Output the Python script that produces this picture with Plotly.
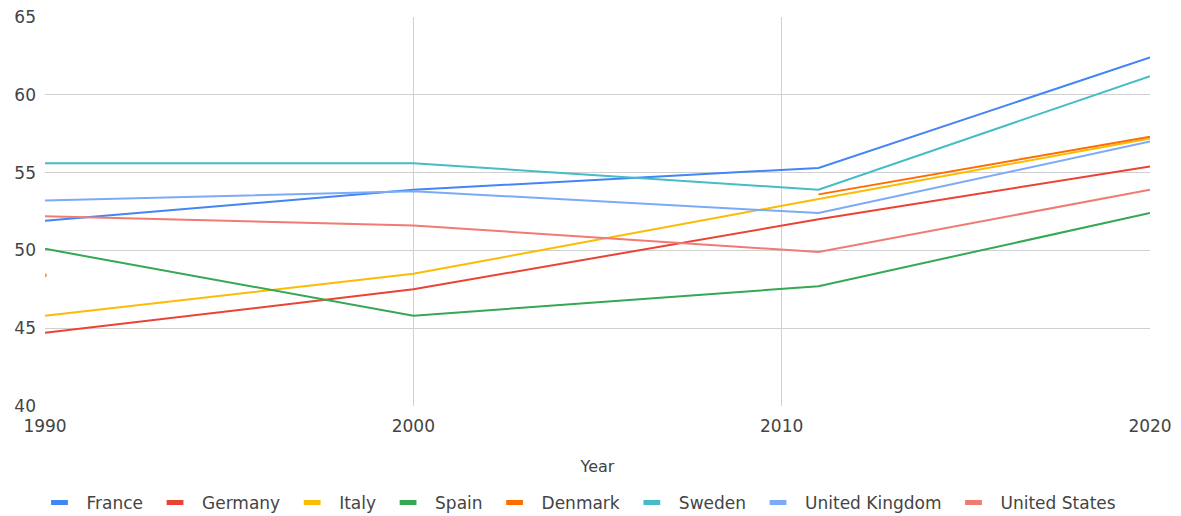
import plotly.graph_objects as go

years = [1990, 2000, 2011, 2020]
countries = ["France", "Germany", "Italy", "Spain", "Denmark", "Sweden", "United Kingdom", "United States"]
colors = ["#4285F4", "#EA4335", "#FBBC04", "#34A853", "#FF6D01", "#46BDC6", "#7BAAF7", "#F07B72"]

france = [51.9, 53.9, 55.3, 62.4]
germany = [44.7, 47.5, 52.0, 55.4]
italy = [45.8, 48.5, 53.3, 57.2]
spain = [50.1, 45.8, 47.7, 52.4]
denmark = [48.4, None, 53.6, 57.3]
sweden = [55.6, 55.6, 53.9, 61.2]
united_kingdom = [53.2, 53.8, 52.4, 57.0]
united_states = [52.2, 51.6, 49.9, 53.9]

series = [france, germany, italy, spain, denmark, sweden, united_kingdom, united_states]

fig = go.Figure()
for name, vals, col in zip(countries, series, colors):
    # isolated points (neighbours missing) are drawn as a small mark
    sizes = []
    for i, v in enumerate(vals):
        prev_ok = i > 0 and vals[i - 1] is not None
        next_ok = i < len(vals) - 1 and vals[i + 1] is not None
        sizes.append(4 if (v is not None and not prev_ok and not next_ok) else 0)
    fig.add_trace(go.Scatter(
        x=years, y=vals, mode="lines+markers", name=name,
        line=dict(color=col, width=2),
        marker=dict(size=sizes, color=col, line=dict(width=0)),
        showlegend=False, connectgaps=False,
    ))
    fig.add_trace(go.Scatter(
        x=[None], y=[None], mode="markers", name=name,
        marker=dict(symbol="line-ew-open", size=12, color=col, line=dict(color=col, width=5)),
        showlegend=True,
    ))

font_family = "DejaVu Sans"
fig.update_layout(
    width=1181, height=516,
    margin=dict(l=45, r=31, t=17, b=110, autoexpand=False),
    paper_bgcolor="white", plot_bgcolor="white",
    font=dict(family=font_family, size=17, color="#444444"),
    xaxis=dict(
        range=[1990, 2020], tickvals=[1990, 2000, 2010, 2020],
        showgrid=True, gridcolor="#d0d0d0", gridwidth=1,
        zeroline=False, showline=False,
        tickfont=dict(size=17, color="#444444"),
        ticklabelstandoff=8,
        title=dict(text="Year", font=dict(size=16, color="#444444"), standoff=25),
    ),
    yaxis=dict(
        range=[40, 65], tickvals=[40, 45, 50, 55, 60, 65],
        showgrid=True, gridcolor="#d0d0d0", gridwidth=1,
        zeroline=False, showline=False,
        tickfont=dict(size=17, color="#444444"),
        ticklabelstandoff=8,
    ),
    legend=dict(
        orientation="h",
        xref="container", x=577 / 1181, xanchor="center",
        yref="container", y=1 - 503 / 516, yanchor="middle",
        font=dict(size=17, color="#444444"),
        itemwidth=44, tracegroupgap=0,
    ),
    showlegend=True,
)

fig.write_html("out.html")
